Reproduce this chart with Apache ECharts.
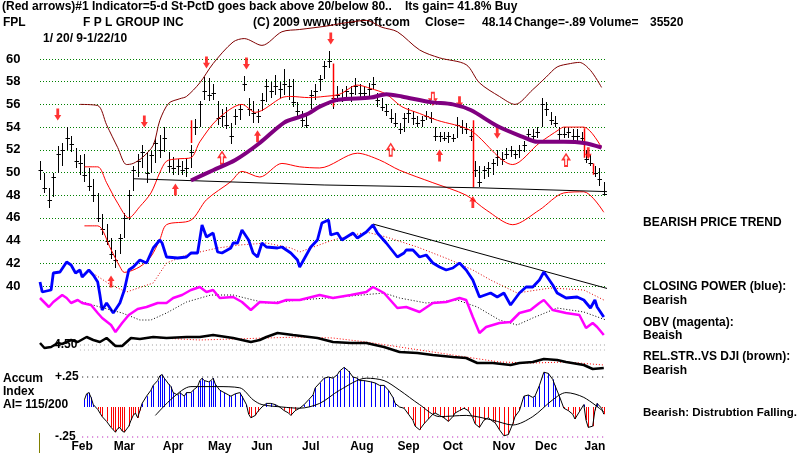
<!DOCTYPE html>
<html><head><meta charset="utf-8">
<script src="https://cdn.jsdelivr.net/npm/echarts@6/dist/echarts.min.js"></script>
<style>html,body{margin:0;padding:0;background:#fff}#c{width:800px;height:455px}</style>
</head><body><div id="c"></div>
<script>
// ---------- DATA ----------
const priceTicks = [40,42,44,46,48,50,52,54,56,58,60];
const months = ['Feb','Mar','Apr','May','Jun','Jul','Aug','Sep','Oct','Nov','Dec','Jan'];
const monthLabelDay = [19,38,60,81,100,122,145,166,186,209,228,250];
const BAR_STEP = 2; // one bar per two trading days, starting 1/20/09
const highs = [51.0,50.0,48.6,50.0,52.3,52.6,54.0,53.2,52.2,51.5,
51.6,50.4,49.4,48.2,46.3,45.5,44.2,43.2,44.6,46.4,
48.5,50.6,51.6,52.4,51.8,51.9,53.0,53.3,54.0,51.8,
51.4,51.2,51.0,51.3,52.4,54.7,56.3,58.4,58.3,57.8,
56.3,55.6,55.8,54.4,55.6,56.0,58.5,56.6,56.3,55.6,
57.0,58.2,58.0,58.6,58.0,59.1,58.2,58.2,56.2,55.4,
55.2,57.3,57.8,58.6,59.8,60.7,57.9,57.6,57.4,57.6,
57.6,58.3,57.8,57.6,57.9,58.4,57.0,56.6,56.0,55.6,
55.2,54.4,55.2,55.7,55.4,55.0,55.0,55.4,55.3,54.0,
53.6,53.6,53.6,53.4,54.9,54.6,54.4,53.8,51.0,50.6,
50.6,50.9,51.2,52.0,51.8,52.2,52.3,52.0,52.4,52.8,
53.8,53.8,54.0,56.6,56.2,55.3,55.0,54.0,54.0,54.0,
53.8,53.8,53.6,52.0,51.5,50.6,50.4,49.2];
const lows = [49.3,48.2,46.9,47.8,50.0,50.6,52.0,51.8,50.4,49.8,
49.2,48.4,47.4,45.6,44.5,43.6,42.4,41.6,42.8,44.2,
45.8,48.4,49.6,50.4,49.1,50.0,50.8,51.3,51.8,50.0,
49.8,49.8,49.8,49.6,50.4,53.3,54.0,56.4,56.3,56.4,
54.2,54.0,53.8,52.5,54.2,54.6,57.2,55.0,54.4,54.4,
55.4,56.2,56.6,56.8,56.6,56.8,56.4,55.8,55.0,54.0,
53.9,55.6,56.4,57.2,58.2,59.2,55.6,56.2,56.2,56.4,
56.2,56.8,56.4,56.4,56.6,57.4,55.8,55.4,55.0,54.4,
54.0,53.4,53.6,54.4,54.2,54.0,54.0,54.6,54.4,52.8,
52.7,52.8,52.6,52.7,53.0,53.4,53.4,52.8,49.6,48.7,
49.4,49.6,49.8,50.6,50.7,51.2,51.4,51.2,51.3,51.8,
52.8,52.8,53.0,54.0,55.0,54.2,54.0,52.8,53.0,53.0,
52.8,52.8,52.7,50.8,50.6,49.6,48.8,48.0];
const closes = [50.2,48.6,47.6,49.6,51.6,52.0,53.0,52.5,51.0,50.8,
49.8,48.8,48.0,46.0,45.0,44.0,42.8,42.3,44.2,46.0,
48.0,50.2,51.0,51.8,50.0,51.5,52.6,52.0,53.0,50.6,
50.4,50.6,50.2,50.4,51.8,54.0,56.0,57.2,56.8,57.0,
54.8,55.0,54.2,53.2,55.0,55.6,57.8,55.6,55.2,55.0,
56.4,57.6,57.2,57.6,57.4,57.8,57.6,56.2,55.4,54.6,
54.2,56.8,57.2,58.2,59.4,59.8,56.6,56.8,56.6,57.2,
57.0,57.6,57.0,57.0,57.4,57.8,56.4,55.8,55.4,54.8,
54.4,53.8,54.8,55.2,54.8,54.4,54.6,55.0,54.8,53.2,
53.2,53.0,53.2,53.0,54.2,54.0,53.8,53.2,50.2,49.2,
50.2,50.4,50.8,51.4,51.2,51.6,52.0,51.6,52.0,52.4,
53.4,53.2,53.6,56.0,55.6,54.6,54.4,53.4,53.4,53.6,
53.2,53.2,53.0,51.2,50.8,50.0,49.4,48.14];

const upperBandOuter = [[18,56.0],[26,55.9],[30,54.2],[35,52.2],[39,50.7],[42,50.8],[46,51.3],[51,52.4],[54,54.6],[58,56.1],[63,56.5],[66,56.7],[72,57.9],[78,59.6],[87,61.5],[92,61.8],[100,61.2],[109,62.4],[117,62.6],[129,62.9],[138,63.2],[147,63.4],[154,62.8],[161,62.4],[171,60.8],[180,60.1],[192,59.5],[198,57.9],[207,56.7],[214,56.0],[222,57.3],[228,58.4],[233,59.3],[239,59.6],[243,59.7],[248,59.0],[253,57.5]];
const upperBand = [[20,50.5],[26,50.5],[30,49.1],[35,47.3],[40,46.0],[45,47.0],[50,48.2],[54,50.0],[57,51.0],[62,51.2],[68,51.3],[72,52.7],[80,54.7],[91,56.0],[97,55.3],[109,56.6],[113,56.7],[121,56.6],[128,56.7],[135,56.9],[143,57.7],[149,57.4],[156,56.9],[163,55.8],[171,55.2],[179,54.6],[194,53.7],[213,50.7],[225,52.6],[234,53.8],[236,54.0],[245,54.0],[253,52.2]];
const lowerBand = [[20,45.3],[26,45.3],[32,43.2],[36,41.7],[38,41.2],[45,41.7],[50,42.6],[54,44.1],[57,45.4],[68,45.8],[75,47.6],[86,49.2],[91,50.1],[99,49.6],[109,50.8],[117,50.5],[126,50.4],[143,51.7],[153,51.1],[162,50.2],[177,49.1],[192,48.0],[201,46.7],[213,45.4],[225,46.7],[236,48.2],[245,48.3],[254,46.5]];
const ma50 = [[68,49.3],[78,50.2],[88,51.1],[99,52.6],[110,54.4],[117,54.9],[121,55.2],[126,55.8],[134,56.4],[149,56.6],[156,56.9],[163,56.7],[176,56.2],[186,56.0],[194,55.5],[206,54.1],[218,53.1],[224,52.7],[236,52.7],[245,52.6],[253,52.2]];
const supportLine = [[42,49.45],[128,48.9],[198,48.65],[258,48.3]];
const sellArrows = [[8,55.1],[47,54.5],[75,59.7],[93,59.6],[131,61.8],[189,56.2],[206,53.5],[247,51.7]];
const sellArrowsDouble = [[177,56.5]];
const buyArrows = [[32,40.4],[61,48.5],[98,53.2],[180,51.5],[195,47.4]];
const buyArrowsDouble = [[82,51.3],[158,52.0],[237,51.1]];
const signalBars = [[68,52.6,54.6],[132,55.8,59.6],[195,48.7,54.6],[245,51.3,53.9],[249,49.8,50.8]];

const closingPower = [[0,48],[1,38],[5,40],[6,57],[9,58],[12,68],[14,65],[16,57],[18,60],[19,53],[22,60],[24,55],[26,48],[27,35],[28,20],[30,27],[33,17],[36,27],[38,40],[40,60],[42,63],[45,70],[48,67],[51,82],[54,90],[55,87],[57,73],[62,72],[66,73],[68,77],[71,77],[73,105],[75,93],[78,97],[80,78],[82,77],[86,82],[87,87],[89,87],[91,100],[94,90],[96,77],[98,73],[100,87],[102,83],[107,82],[109,83],[113,77],[116,70],[117,63],[122,83],[125,90],[127,107],[130,110],[131,95],[134,97],[136,90],[141,97],[143,92],[147,98],[150,105],[152,97],[156,87],[161,73],[164,77],[165,80],[168,80],[171,73],[174,75],[177,67],[180,63],[183,60],[186,62],[189,67],[192,60],[195,50],[198,33],[203,37],[206,33],[209,37],[212,25],[216,37],[219,43],[222,43],[225,50],[227,58],[231,45],[233,37],[237,32],[242,33],[245,30],[248,22],[250,30],[251,23],[254,13]];
const closingPowerMA = [[25,55],[32,45],[39,38],[51,47],[57,67],[66,75],[80,82],[90,85],[102,87],[113,82],[117,78],[132,90],[147,98],[156,93],[170,83],[185,70],[195,60],[203,50],[215,37],[230,42],[245,40],[254,30]];
const closingPowerTrend = [[150,106],[258,40]];

const obv = [[0,42],[4,33],[6,38],[10,45],[12,42],[14,37],[17,40],[19,37],[23,35],[26,27],[28,22],[32,15],[34,8],[37,17],[40,25],[44,31],[48,33],[53,37],[57,37],[60,42],[64,45],[68,50],[72,53],[75,48],[78,50],[81,42],[87,43],[91,38],[95,30],[99,38],[107,37],[111,40],[117,40],[126,45],[132,42],[140,45],[147,48],[150,53],[155,47],[161,32],[165,33],[171,28],[177,37],[183,38],[189,42],[192,40],[195,23],[198,7],[201,13],[207,17],[212,18],[216,27],[221,30],[225,37],[227,40],[231,30],[237,27],[243,25],[246,12],[249,17],[251,13],[254,5]];
const obvMA = [[19,38],[27,33],[37,27],[45,20],[50,20],[57,27],[66,38],[77,45],[87,45],[96,40],[102,37],[117,40],[135,43],[155,47],[162,42],[174,37],[188,40],[197,33],[207,20],[215,15],[222,22],[233,32],[245,28],[255,20]];

const relStr = [[0,4.52],[2,4.47],[5,4.48],[8,4.52],[10,4.51],[14,4.55],[17,4.53],[21,4.58],[24,4.55],[27,4.53],[30,4.57],[34,4.49],[37,4.49],[41,4.57],[45,4.56],[51,4.58],[57,4.57],[66,4.58],[72,4.58],[78,4.60],[87,4.57],[95,4.53],[99,4.55],[102,4.58],[107,4.62],[114,4.60],[125,4.57],[132,4.53],[140,4.52],[147,4.52],[155,4.48],[162,4.43],[170,4.42],[177,4.40],[186,4.38],[192,4.37],[197,4.32],[204,4.32],[212,4.30],[216,4.32],[222,4.33],[227,4.36],[233,4.35],[237,4.33],[245,4.30],[249,4.26],[254,4.27]];
const relStrMA = [[54,4.57],[72,4.55],[102,4.57],[117,4.58],[132,4.57],[147,4.53],[162,4.48],[177,4.43],[192,4.38],[207,4.33],[222,4.32],[237,4.33],[254,4.30]];
const rsLevels = [4.50, 4.45];

const accumIndex = [[20,0.06],[21,0.11],[22,0.12],[23,0.08],[24,0.02],[26,-0.02],[27,-0.05],[28,-0.08],[30,-0.12],[32,-0.17],[33,-0.19],[34,-0.21],[35,-0.18],[36,-0.17],[37,-0.20],[38,-0.21],[40,-0.16],[41,-0.11],[42,-0.07],[43,-0.05],[44,-0.09],[45,-0.03],[46,0.03],[48,0.09],[50,0.14],[51,0.18],[53,0.22],[54,0.26],[55,0.27],[56,0.24],[58,0.19],[59,0.17],[60,0.12],[62,0.10],[63,0.12],[65,0.09],[66,0.12],[68,0.12],[69,0.14],[71,0.17],[72,0.22],[73,0.24],[74,0.22],[76,0.21],[77,0.22],[78,0.24],[79,0.19],[81,0.14],[83,0.12],[85,0.10],[86,0.09],[88,0.11],[90,0.12],[91,0.09],[93,0.02],[94,-0.06],[95,-0.09],[97,-0.07],[98,-0.04],[100,0.00],[102,0.03],[104,0.03],[106,0.02],[108,0.00],[110,-0.03],[112,-0.05],[113,-0.07],[115,-0.03],[117,-0.01],[119,0.02],[121,0.06],[123,0.10],[124,0.16],[126,0.20],[128,0.24],[130,0.25],[132,0.24],[134,0.27],[135,0.30],[137,0.33],[139,0.30],[141,0.25],[143,0.24],[144,0.22],[146,0.22],[149,0.21],[151,0.20],[153,0.18],[155,0.18],[157,0.14],[159,0.08],[160,0.03],[162,0.00],[164,-0.01],[166,-0.06],[168,-0.11],[169,-0.16],[171,-0.19],[173,-0.14],[175,-0.10],[177,-0.06],[178,-0.05],[180,-0.07],[182,-0.09],[184,-0.12],[186,-0.08],[187,-0.05],[189,-0.03],[191,-0.01],[193,-0.03],[195,-0.09],[196,-0.14],[198,-0.17],[200,-0.11],[202,-0.09],[204,-0.12],[205,-0.13],[207,-0.19],[209,-0.24],[211,-0.23],[213,-0.14],[214,-0.08],[216,-0.03],[218,0.09],[220,0.10],[222,0.08],[223,0.09],[225,0.18],[227,0.29],[229,0.28],[231,0.23],[232,0.18],[234,0.09],[236,-0.01],[238,-0.03],[240,-0.06],[241,-0.10],[243,-0.04],[245,0.02],[246,-0.11],[247,-0.17],[249,-0.16],[250,-0.03],[251,0.03],[253,-0.01],[254,-0.06]];
const accumIndexMA = [[52,-0.07],[60,0.08],[68,0.17],[80,0.17],[90,0.16],[96,0.06],[100,0.02],[109,0.00],[117,-0.01],[126,0.03],[135,0.14],[147,0.24],[155,0.22],[162,0.14],[171,0.02],[180,-0.08],[192,-0.07],[204,-0.11],[213,-0.15],[222,-0.08],[231,0.06],[237,0.12],[245,0.08],[254,-0.04]];
const aiLevels = [0.25, -0.25];

// ---------- CHART ----------
const FONT = '"Liberation Sans", Arial, sans-serif';
const chart = echarts.init(document.getElementById('c'), null, {renderer:'canvas'});
const L = 40, W = 566, XMAX = 255;
const grids = [
  {left:L, width:W, top:59, height:227},
  {left:L, width:W, top:210, height:120},
  {left:L, width:W, top:280, height:60},
  {left:L, width:W, top:330, height:45},
  {left:L, width:W, top:377, height:60}
];
const xAxes = grids.map((g,i)=>({
  type:'value', gridIndex:i, min:0, max:XMAX, show: i===4,
  axisLine:{show:false}, axisTick:{show:false}, splitLine:{show:false},
  axisLabel: i===4 ? {
    customValues: monthLabelDay, margin:4,
    formatter:(v)=>months[monthLabelDay.indexOf(v)] || '',
    fontFamily:FONT, fontWeight:'bold', fontSize:12, color:'#000'
  } : {show:false}
}));
const yAxes = [
  {type:'value', gridIndex:0, min:priceTicks[0], max:priceTicks[priceTicks.length-1], interval:2,
   axisLine:{show:false}, axisTick:{show:false},
   axisLabel:{align:'left', margin:34, fontFamily:FONT, fontWeight:'bold', fontSize:13, color:'#000'},
   splitLine:{show:true, lineStyle:{color:'#008000', type:[1,2], width:1}}},
  {type:'value', gridIndex:1, min:0, max:120, show:false},
  {type:'value', gridIndex:2, min:0, max:60, show:false},
  {type:'value', gridIndex:3, min:4.20, max:4.65,
   axisLine:{show:false}, axisTick:{show:false}, splitLine:{show:false},
   axisLabel:{inside:true, margin:14, customValues:[4.5], formatter:(v)=>v.toFixed(2),
     fontFamily:FONT, fontWeight:'bold', fontSize:12, color:'#000'}},
  {type:'value', gridIndex:4, min:-0.25, max:0.25,
   axisLine:{show:false}, axisTick:{show:false}, splitLine:{show:false},
   axisLabel:{inside:true, margin:15, customValues:[0.25,-0.25], formatter:(v)=>(v>0?'+':'-')+'.25',
     fontFamily:FONT, fontWeight:'bold', fontSize:12, color:'#000'}}
];

function lineS(data, xi, color, width, opts){
  return Object.assign({type:'line', xAxisIndex:xi, yAxisIndex:xi, data:data, symbol:'none',
    clip:false, silent:true, animation:false,
    lineStyle:{color:color, width:width}}, opts||{});
}
const crisp = v => Math.round(v) + 0.5;

const barData = highs.map((h,k)=>[k*BAR_STEP, h, lows[k], closes[k]]);
const downPath = 'path://M3,0 L7,0 L7,7 L10,7 L5,13 L0,7 L3,7 Z';
const upPath = 'path://M5,0 L10,6 L7,6 L7,13 L3,13 L3,6 L0,6 Z';

const series = [
  lineS(upperBandOuter, 0, '#800000', 1, {smooth:0.3}),
  lineS(upperBand, 0, '#ff0000', 1, {smooth:0.3}),
  lineS(lowerBand, 0, '#ff0000', 1, {smooth:0.3}),
  lineS(supportLine, 0, '#000000', 1),
  {type:'custom', xAxisIndex:0, yAxisIndex:0, data:barData, animation:false, silent:true, clip:false,
   renderItem:(p, api)=>{
     const x = api.value(0);
     const a = api.coord([x, api.value(1)]), b = api.coord([x, api.value(2)]), c = api.coord([x, api.value(3)]);
     const cx = crisp(a[0]), cy = crisp(c[1]);
     return {type:'group', children:[
       {type:'line', shape:{x1:cx, y1:Math.round(a[1]), x2:cx, y2:Math.round(b[1])}, style:{stroke:'#000', lineWidth:1}},
       {type:'line', shape:{x1:cx-2, y1:cy, x2:cx+2.5, y2:cy}, style:{stroke:'#000', lineWidth:1}}
     ]};
   }},
  {type:'custom', xAxisIndex:0, yAxisIndex:0, data:signalBars, animation:false, silent:true, clip:false,
   renderItem:(p, api)=>{
     const x = api.value(0);
     const a = api.coord([x, api.value(1)]), b = api.coord([x, api.value(2)]);
     return {type:'line', shape:{x1:crisp(a[0]), y1:a[1], x2:crisp(a[0]), y2:b[1]}, style:{stroke:'#ff0000', lineWidth:1.5}};
   }},
  lineS(ma50, 0, '#800080', 4, {smooth:0.3}),
  {type:'scatter', xAxisIndex:0, yAxisIndex:0, data:sellArrows, symbol:downPath, symbolSize:[7,12],
   itemStyle:{color:'#ff0000'}, clip:false, silent:true, animation:false},
  {type:'scatter', xAxisIndex:0, yAxisIndex:0, data:sellArrowsDouble, symbol:downPath, symbolSize:[7,12],
   itemStyle:{color:'#ffffff', borderColor:'#ff0000', borderWidth:1.5}, clip:false, silent:true, animation:false},
  {type:'scatter', xAxisIndex:0, yAxisIndex:0, data:buyArrows, symbol:upPath, symbolSize:[7,12],
   itemStyle:{color:'#ff0000'}, clip:false, silent:true, animation:false},
  {type:'scatter', xAxisIndex:0, yAxisIndex:0, data:buyArrowsDouble, symbol:upPath, symbolSize:[7,12],
   itemStyle:{color:'#ffffff', borderColor:'#ff0000', borderWidth:1.5}, clip:false, silent:true, animation:false},
  lineS(closingPowerMA, 1, '#ff0000', 1, {lineStyle:{color:'#e00000', width:1, type:[1,2]}}),
  lineS(closingPowerTrend, 1, '#000000', 1),
  lineS(closingPower, 1, '#0000ff', 2.8),
  lineS(obvMA, 2, '#000', 1, {lineStyle:{color:'#000', width:1, type:[1,2]}}),
  lineS(obv, 2, '#ff00ff', 2.5),
  lineS([[18,rsLevels[0]],[XMAX,rsLevels[0]]], 3, '#999', 1, {lineStyle:{color:'#9a9a9a', width:1, type:[1,3]}}),
  lineS([[18,rsLevels[1]],[XMAX,rsLevels[1]]], 3, '#999', 1, {lineStyle:{color:'#b0b0b0', width:1, type:[1,3]}}),
  lineS(relStrMA, 3, '#ff0000', 1, {lineStyle:{color:'#ff0000', width:1, type:[1,2]}}),
  lineS(relStr, 3, '#000000', 2.5),
  lineS([[19,aiLevels[0]],[XMAX,aiLevels[0]]], 4, '#000', 1, {lineStyle:{color:'#000', width:1, type:[1,4]}}),
  lineS([[19,aiLevels[1]],[XMAX,aiLevels[1]]], 4, '#c000c0', 1, {lineStyle:{color:'#b000b0', width:1, type:[1,4]}}),
  {type:'custom', xAxisIndex:4, yAxisIndex:4, data:accumIndex, animation:false, silent:true, clip:false,
   renderItem:(p, api)=>{
     const x = api.value(0), v = api.value(1);
     const a = api.coord([x, 0]), b = api.coord([x, v]);
     return {type:'line', shape:{x1:crisp(a[0]), y1:a[1], x2:crisp(a[0]), y2:b[1]},
       style:{stroke: v >= 0 ? '#0000ff' : '#ff0000', lineWidth:1}};
   }},
  lineS(accumIndex, 4, '#000', 1),
  lineS(accumIndexMA, 4, '#000', 1, {smooth:0.3})
];

const T = (text, x, y, size) => ({type:'text', x:x, y:y, silent:true,
  style:{text:text, font:'bold '+(size||12)+'px '+FONT, fill:'#000', textVerticalAlign:'middle', verticalAlign:'middle'}});

chart.setOption({
  animation:false,
  backgroundColor:'#ffffff',
  grid: grids,
  xAxis: xAxes,
  yAxis: yAxes,
  series: series,
  graphic: [
    T('(Red arrows)#1 Indicator=5-d St-PctD goes back above 20/below 80..', 2, 7),
    T('Its gain= 41.8% Buy', 405, 7),
    T('FPL', 3, 23),
    T('F P L GROUP INC', 83, 23),
    T('(C) 2009 www.tigersoft.com', 253, 23),
    T('Close=', 425, 23),
    T('48.14', 482, 23),
    T('Change=-.89 Volume=', 514, 23),
    T('35520', 650, 23),
    T('1/ 20/ 9-1/22/10', 43, 39),
    T('BEARISH PRICE TREND', 643, 223),
    T('CLOSING POWER (blue):', 643, 287),
    T('Bearish', 643, 301),
    T('OBV (magenta):', 643, 323),
    T('Beaish', 643, 336),
    T('REL.STR..VS DJI (brown):', 643, 357),
    T('Bearish', 643, 371),
    T('Bearish: Distrubtion Falling.', 643, 413, 11.5),
    T('Accum', 3, 379),
    T('Index', 3, 392),
    T('AI= 115/200', 3, 405),
    {type:'line', silent:true, shape:{x1:39.5, y1:433, x2:39.5, y2:453}, style:{stroke:'#808000', lineWidth:1}}
  ]
});
</script>
</body></html>
